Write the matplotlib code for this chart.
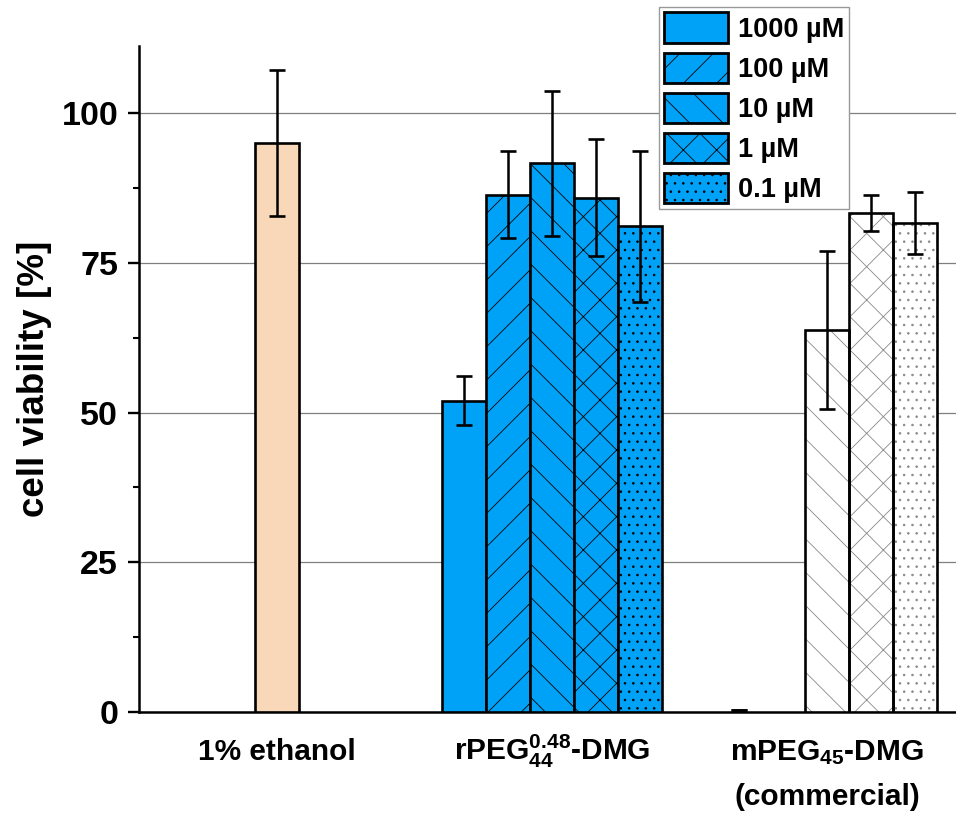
import numpy as np
import matplotlib
matplotlib.use('Agg')
import matplotlib.pyplot as plt
from matplotlib.patches import Patch

plt.rcParams['font.family'] = ['Liberation Sans', 'DejaVu Sans']
plt.rcParams['font.weight'] = 'bold'
plt.rcParams['mathtext.fontset'] = 'custom'
plt.rcParams['mathtext.rm'] = 'Liberation Sans:bold'
plt.rcParams['mathtext.bf'] = 'Liberation Sans:bold'
plt.rcParams['mathtext.it'] = 'Liberation Sans:bold'
plt.rcParams['hatch.linewidth'] = 0.6

# --- data ---
group_labels = ['1% ethanol', r'rPEG$_{44}^{0.48}$-DMG', r'mPEG$_{45}$-DMG']
concentrations = ['1000 \u00b5M', '100 \u00b5M', '10 \u00b5M', '1 \u00b5M', '0.1 \u00b5M']
hatches = ['', '/', '\\', 'x', '..']

ethanol_mean = 95.0
ethanol_err = 12.2

rpeg_mean = [52.0, 86.4, 91.6, 85.9, 81.1]
rpeg_err = [4.1, 7.2, 12.1, 9.7, 12.6]

mpeg_mean = [0.3, np.nan, 63.8, 83.3, 81.7]
mpeg_err = [0.0, np.nan, 13.2, 3.0, 5.2]

blue = '#00A2F8'
peach = '#F9D8BA'
bar_w = 0.16
offsets = (np.arange(5) - 2) * bar_w

fig = plt.figure(figsize=(9.56, 8.16), dpi=100)
ax = fig.add_axes([139 / 956, 1 - 712 / 816, 817 / 956, 666 / 816])

err_kw = dict(fmt='none', ecolor='black', elinewidth=1.8, capsize=5.8, capthick=1.9, zorder=5)

# 1% ethanol control
ax.bar(0, ethanol_mean, bar_w, color=peach, edgecolor='black', linewidth=1.9, zorder=3)
ax.errorbar(0, ethanol_mean, yerr=ethanol_err, **err_kw)

# rPEG series (blue, hatched in black)
for i in range(5):
    x = 1 + offsets[i]
    ax.bar(x, rpeg_mean[i], bar_w, color=blue, edgecolor='black', linewidth=1.9,
           hatch=hatches[i], zorder=3)
    ax.errorbar(x, rpeg_mean[i], yerr=rpeg_err[i], **err_kw)

# commercial mPEG series (white, grey hatch, black outline)
for i in range(5):
    if np.isnan(mpeg_mean[i]):
        continue
    x = 2 + offsets[i]
    if mpeg_mean[i] > 1:
        ax.bar(x, mpeg_mean[i], bar_w, color='white', edgecolor='#8a8a8a', linewidth=0,
               hatch=hatches[i], zorder=3)
        ax.bar(x, mpeg_mean[i], bar_w, fill=False, edgecolor='black', linewidth=1.9, zorder=4)
    ax.errorbar(x, mpeg_mean[i], yerr=mpeg_err[i], **err_kw)

ax.set_xlim(-0.5, 2.469)
ax.set_ylim(0, 111.2)

ax.spines['top'].set_visible(False)
ax.spines['right'].set_visible(False)
ax.spines['left'].set_linewidth(1.8)
ax.spines['bottom'].set_linewidth(1.8)

ax.set_yticks([0, 25, 50, 75, 100])
ax.set_yticks([12.5, 37.5, 62.5, 87.5], minor=True)
ax.tick_params(axis='y', which='major', length=8, width=1.7, labelsize=24.5, pad=7)
ax.tick_params(axis='y', which='minor', length=4, width=1.5)
ax.set_xticks([])
ax.yaxis.grid(True, which='major', color='#7f7f7f', linewidth=0.9, zorder=0)
ax.set_axisbelow(True)

ax.set_ylabel('cell viability [%]', fontsize=26.5, fontweight='bold')
ax.yaxis.set_label_coords(-0.107, 0.5)

# group labels under the axis, aligned on a common baseline
for gx, lab in enumerate(group_labels):
    ax.text(gx, -0.072, lab, transform=ax.get_xaxis_transform(), ha='center',
            va='baseline', fontsize=21.5, fontweight='bold')
ax.text(2, -0.1396, '(commercial)', transform=ax.get_xaxis_transform(), ha='center',
        va='baseline', fontsize=21.5, fontweight='bold')

handles = [Patch(facecolor=blue, edgecolor='black', linewidth=2.0, hatch=h) for h in hatches]
fig.legend(handles, concentrations, loc='upper left',
           bbox_to_anchor=(659 / 956, 1 - 7 / 816), fontsize=19.5,
           handlelength=2.35, handleheight=1.35, labelspacing=0.36, handletextpad=0.35,
           borderpad=0.2, borderaxespad=0, fancybox=False, framealpha=1,
           edgecolor='#999999')

fig.savefig('out.png', dpi=100)
